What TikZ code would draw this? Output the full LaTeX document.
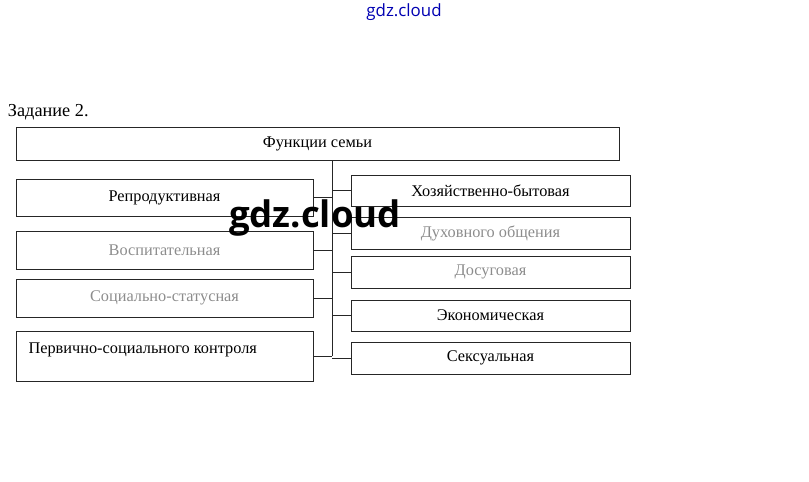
\documentclass[tikz,border=0pt]{standalone}
\usepackage{fontspec}
\setmainfont{Liberation Serif}
\newfontfamily\markfont{Open Sans}
\usetikzlibrary{calc}
\tikzset{
  func box/.style={draw=black!85, line width=0.6pt, inner sep=0pt, font=\fontsize{11.6}{13}\selectfont},
  left box/.style={func box, minimum width=297*0.025cm},
  right box/.style={func box, minimum width=279*0.025cm},
  faded text/.style={text=black!45},
  branch line/.style={draw=black!85, line width=0.5pt},
}

\begin{document}
\begin{tikzpicture}[x=0.025cm, y=-0.025cm]
  \useasboundingbox (0,0) rectangle (809,481);
  % watermark at the top
  \node[font=\markfont\fontsize{12}{12}\selectfont, text=blue!70!black] (mark) at (404,12) {gdz.cloud};
  \node[anchor=west, font=\fontsize{13}{15}\selectfont] (task) at (3,112) {Задание 2.};
  % main box
  \node[func box, minimum width=603*0.025cm, minimum height=33*0.025cm] (family) at (317.5,143.5) {Функции семьи};
  % left column
  \node[left box, minimum height=37*0.025cm] (repro) at (164.5,197.5) {Репродуктивная};
  \node[left box, minimum height=38*0.025cm, faded text] (educ) at (164.5,250) {Воспитательная};
  \node[left box, minimum height=38*0.025cm, faded text] (status) at (164.5,298) {Социально-статусная};
  \node[left box, minimum height=50*0.025cm] (control) at (164.5,356) {};
  \node[anchor=north west, font=\fontsize{11.6}{13}\selectfont] (controltext) at ($(control.north west)+(8,7)$) {Первично-социального контроля};
  % right column
  \node[right box, minimum height=31*0.025cm] (house) at (490.5,190.5) {Хозяйственно-бытовая};
  \node[right box, minimum height=32*0.025cm, faded text] (spirit) at (490.5,233) {Духовного общения};
  \node[right box, minimum height=32*0.025cm, faded text] (leisure) at (490.5,272) {Досуговая};
  \node[right box, minimum height=31*0.025cm] (econ) at (490.5,315.5) {Экономическая};
  \node[right box, minimum height=32*0.025cm] (sex) at (490.5,358) {Сексуальная};
  % trunk and branches
  \coordinate (top) at (family.south -| 332,0);
  \coordinate (bottom) at (332,356);
  \draw[branch line] (top) -- (bottom);
  \foreach \n in {repro, educ, status, control}
    \draw[branch line] (\n.east) -- (\n.east -| top);
  \foreach \n in {house, spirit, leisure, econ, sex}
    \draw[branch line] (\n.west) -- (\n.west -| top);
  % big watermark
  \node[font=\markfont\bfseries\fontsize{26}{26}\selectfont] (bigmark) at (315,218) {gdz.cloud};
\end{tikzpicture}
\end{document}
